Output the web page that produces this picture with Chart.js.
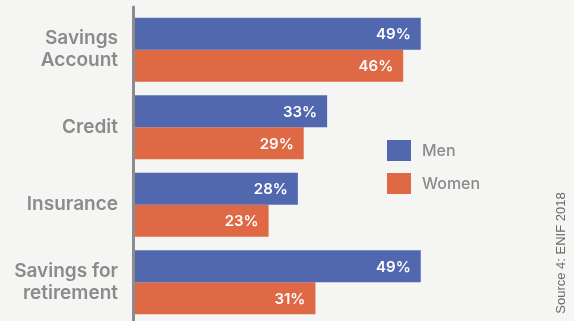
<!DOCTYPE html>
<html>
<head>
<meta charset="utf-8">
<script src="https://cdn.jsdelivr.net/npm/chart.js@4"></script>
<style>
  html, body { margin: 0; padding: 0; background: #f5f5f3; }
  #wrap { width: 574px; height: 321px; position: relative; }
</style>
</head>
<body>
<div id="wrap"><canvas id="chart"></canvas></div>
<script>
// productos financieros por sexo (%)
const categories = [['Savings', 'Account'], 'Credit', 'Insurance', ['Savings for', 'retirement']];
const men = [49, 33, 28, 49];
const women = [46, 29, 23, 31];
const seriesNames = ['Men', 'Women'];
const sourceText = 'Source 4: ENIF 2018';

const BLUE = '#5268ae';
const ORANGE = '#df6945';
const GREY = '#8b8b8b';

// etiquetas de valor dentro de cada barra
const valueLabels = {
  id: 'valueLabels',
  afterDatasetsDraw(chart) {
    const ctx = chart.ctx;
    ctx.save();
    ctx.font = '600 15px Inter';
    ctx.fillStyle = '#ffffff';
    ctx.textAlign = 'right';
    ctx.textBaseline = 'middle';
    chart.data.datasets.forEach((ds, i) => {
      chart.getDatasetMeta(i).data.forEach((bar, j) => {
        ctx.fillText(ds.data[j] + '%', bar.x - 10, bar.y + 1);
      });
    });
    ctx.restore();
  }
};

// eje vertical gris, leyenda y fuente
const extras = {
  id: 'extras',
  afterDraw(chart) {
    const ctx = chart.ctx;
    const area = chart.chartArea;
    ctx.save();
    ctx.strokeStyle = '#8c8c8c';
    ctx.lineWidth = 3;
    ctx.lineCap = 'round';
    ctx.beginPath();
    ctx.moveTo(area.left - 0.5, area.top - 4);
    ctx.lineTo(area.left - 0.5, chart.height + 4);
    ctx.stroke();

    ctx.font = '500 16px Inter';
    ctx.textBaseline = 'middle';
    ctx.textAlign = 'left';
    chart.data.datasets.forEach((ds, i) => {
      const y = 140 + i * 33;
      ctx.fillStyle = ds.backgroundColor;
      ctx.fillRect(387, y, 24, 21);
      ctx.fillStyle = GREY;
      ctx.fillText(ds.label, 422, y + 11);
    });

    ctx.translate(561, 253);
    ctx.rotate(-Math.PI / 2);
    ctx.font = '13px "Liberation Sans"';
    ctx.fillStyle = '#6b6b6b';
    ctx.textAlign = 'center';
    ctx.textBaseline = 'middle';
    ctx.fillText(sourceText, 0, 0);
    ctx.restore();
  }
};

new Chart(document.getElementById('chart'), {
  type: 'bar',
  data: {
    labels: categories,
    datasets: [
      { label: seriesNames[0], data: men, backgroundColor: BLUE },
      { label: seriesNames[1], data: women, backgroundColor: ORANGE }
    ]
  },
  options: {
    indexAxis: 'y',
    responsive: true,
    maintainAspectRatio: false,
    animation: false,
    categoryPercentage: 0.826,
    barPercentage: 1,
    layout: { padding: { top: 11, right: 28, bottom: 0, left: 0 } },
    plugins: {
      legend: { display: false },
      tooltip: { enabled: false }
    },
    scales: {
      x: { display: false, min: 0, max: 70.4 },
      y: {
        afterFit(scale) {
          // ancho fijo del eje y sin margen extra por las etiquetas de dos líneas
          scale.width = 134;
          scale.paddingTop = 0;
          scale.paddingBottom = 0;
        },
        grid: { display: false, drawTicks: false },
        border: { display: false },
        ticks: {
          padding: 16,
          color: GREY,
          font: { family: 'Inter', size: 19, weight: '600', lineHeight: 1.16 }
        }
      }
    }
  },
  plugins: [valueLabels, extras]
});
</script>
</body>
</html>
